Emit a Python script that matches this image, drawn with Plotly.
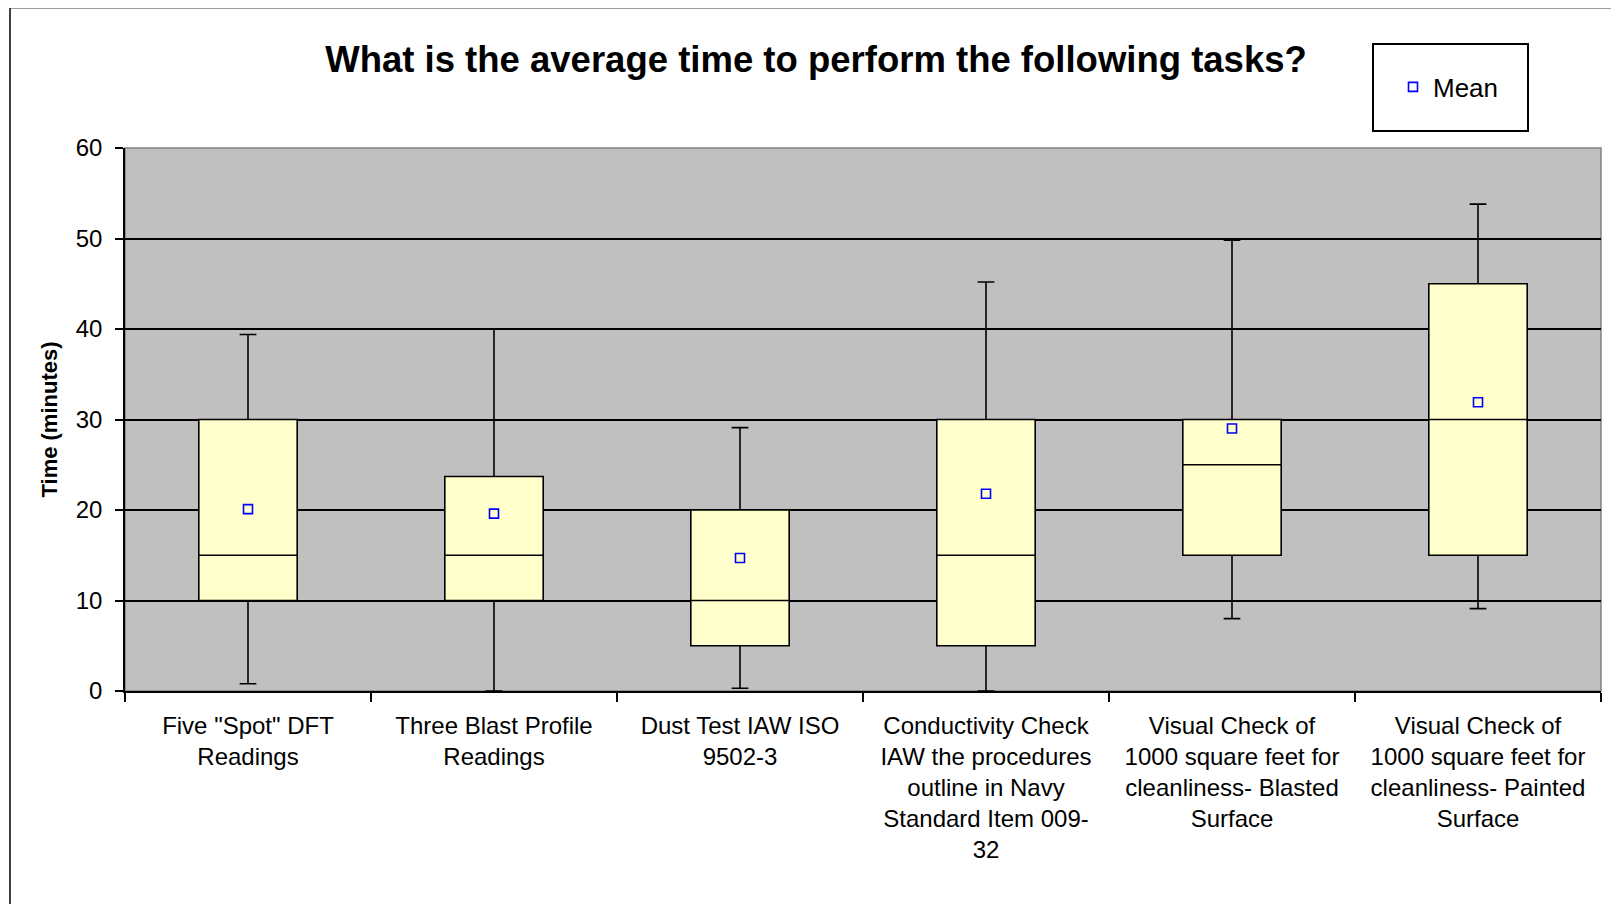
import plotly.graph_objects as go

categories = ["Five Spot", "Three Blast", "Dust Test", "Conductivity", "Visual Blasted", "Visual Painted"]
tick_labels = [
    'Five "Spot" DFT<br>Readings',
    'Three Blast Profile<br>Readings',
    'Dust Test IAW ISO<br>9502-3',
    'Conductivity Check<br>IAW the procedures<br>outline in Navy<br>Standard Item 009-<br>32',
    'Visual Check of<br>1000 square feet for<br>cleanliness- Blasted<br>Surface',
    'Visual Check of<br>1000 square feet for<br>cleanliness- Painted<br>Surface',
]
minimum = [0.8, 0, 0.3, 0, 8.0, 9.1]
q1 = [10, 10, 5, 5, 15, 15]
median = [15, 15, 10, 15, 25, 30]
q3 = [30, 23.7, 20, 30, 30, 45]
maximum = [39.4, 40, 29.1, 45.2, 49.8, 53.8]
mean = [20.1, 19.6, 14.7, 21.8, 29.0, 31.9]

FONT = "Arial, Liberation Sans, sans-serif"

# page body margin offset (px)
OFF = 8
W, H = 1619 - OFF, 904 - OFF
# plot area in page pixels: left 125, right 1601, top 148, bottom 691
L = 125 - OFF
T = 148 - OFF
R = W - (1601 - OFF)
B = H - (691 - OFF)
PW = W - L - R
PH = H - T - B


def px_to_paper_x(px):
    return (px - OFF - L) / PW


def px_to_paper_y(py):
    return (H - B - (py - OFF)) / PH


fig = go.Figure()

fig.add_trace(go.Box(
    x=categories,
    q1=q1,
    median=median,
    q3=q3,
    lowerfence=minimum,
    upperfence=maximum,
    boxpoints=False,
    fillcolor="#FFFFCC",
    line=dict(color="black", width=1.6),
    width=0.4,
    whiskerwidth=0.17,
    showlegend=False,
    hoverinfo="skip",
))

fig.add_trace(go.Scatter(
    x=categories,
    y=mean,
    mode="markers",
    name="Mean",
    marker=dict(symbol="square-open", size=9, color="#0000FF", line=dict(color="#0000FF", width=1.6)),
))

fig.update_layout(
    width=W,
    height=H,
    margin=dict(l=L, r=R, t=T, b=B),
    paper_bgcolor="white",
    plot_bgcolor="#C0C0C0",
    font=dict(family=FONT, size=22, color="black"),
    title=dict(
        text="<b>What is the average time to perform the following tasks?</b>",
        font=dict(family=FONT, size=36.5, color="black"),
        xref="container", x=(816 - OFF) / W, xanchor="center",
        yref="container", y=1 - (59 - OFF) / H, yanchor="middle",
    ),
    legend=dict(
        x=px_to_paper_x(1393), y=px_to_paper_y(87),
        xanchor="left", yanchor="middle",
        bgcolor="rgba(0,0,0,0)", borderwidth=0,
        font=dict(family=FONT, size=26, color="black"),
        itemwidth=30,
    ),
    showlegend=True,
    xaxis=dict(
        type="category",
        tickmode="array",
        tickvals=categories,
        ticktext=tick_labels,
        tickson="boundaries",
        ticks="outside",
        ticklen=9,
        tickwidth=1.5,
        tickcolor="black",
        ticklabelstandoff=12,
        showgrid=False,
        showline=True,
        linecolor="black",
        linewidth=1.5,
        tickfont=dict(family=FONT, size=24, color="black"),
        range=[-0.5, 5.5],
        fixedrange=True,
    ),
    yaxis=dict(
        range=[0, 60],
        dtick=10,
        tick0=0,
        ticks="outside",
        ticklen=8,
        tickwidth=1.5,
        tickcolor="black",
        ticklabelstandoff=8,
        showgrid=True,
        gridcolor="black",
        gridwidth=1.5,
        zeroline=False,
        showline=True,
        linecolor="black",
        linewidth=1.5,
        tickfont=dict(family=FONT, size=24, color="black"),
        title=dict(text="<b>Time (minutes)</b>", font=dict(family=FONT, size=22, color="black"), standoff=12),
    ),
    shapes=[
        # plot area border (top/right grey edge)
        dict(type="rect", xref="paper", yref="paper", x0=0, x1=1, y0=0, y1=1,
             line=dict(color="#808080", width=1.5), fillcolor="rgba(0,0,0,0)", layer="below"),
        # legend box
        dict(type="rect", xref="paper", yref="paper",
             x0=px_to_paper_x(1373), x1=px_to_paper_x(1528),
             y0=px_to_paper_y(131), y1=px_to_paper_y(44),
             line=dict(color="black", width=2), fillcolor="white"),
        # outer chart border
        dict(type="rect", xref="paper", yref="paper",
             x0=px_to_paper_x(10), x1=px_to_paper_x(1640),
             y0=px_to_paper_y(930), y1=px_to_paper_y(7.5),
             line=dict(color="#404040", width=2), fillcolor="rgba(0,0,0,0)"),
    ],
)

fig.write_html("out.html")
